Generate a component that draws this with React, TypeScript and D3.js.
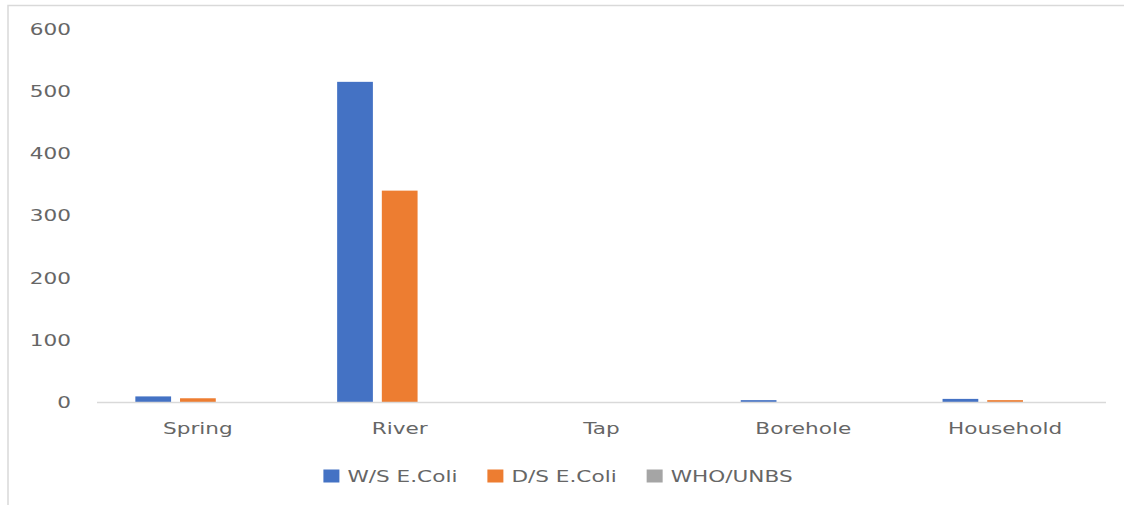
import React, { useEffect, useRef } from "react";
import * as d3 from "d3";

// Sampling sites
const categories = ["Spring", "River", "Tap", "Borehole", "Household"];

// E. coli counts per site
const wsEColi = [9, 515, 0, 3, 5];
const dsEColi = [6, 340, 0, 0, 3];
const whoUnbs = [0, 0, 0, 0, 0];

const seriesNames = ["W/S E.Coli", "D/S E.Coli", "WHO/UNBS"];
const seriesColors = ["#4472c4", "#ed7d31", "#a5a5a5"];
const yTicks = [0, 100, 200, 300, 400, 500, 600];

const W = 1124;
const H = 505;
const FONT = "DejaVu Sans, sans-serif";
const SX = 1.35; // horizontal stretch applied to the labels

export default function App() {
  const ref = useRef<SVGSVGElement | null>(null);

  useEffect(() => {
    const svg = d3.select(ref.current);
    svg.selectAll("*").remove();

    const margin = { left: 97, right: 18, top: 29, bottom: 103 };
    const plotW = W - margin.left - margin.right;
    const plotH = H - margin.top - margin.bottom;

    const series = [wsEColi, dsEColi, whoUnbs];

    const x0 = d3.scaleBand<string>().domain(categories).range([margin.left, margin.left + plotW]).padding(0);
    const outer = x0.bandwidth() * 0.19;
    const x1 = d3
      .scaleBand<number>()
      .domain([0, 1, 2])
      .range([outer, x0.bandwidth() - outer])
      .paddingInner(0.2)
      .paddingOuter(0);
    const y = d3.scaleLinear().domain([0, 600]).range([margin.top + plotH, margin.top]);

    // chart frame
    svg
      .append("path")
      .attr("d", `M8,${H} L8,5.5 L${W},5.5`)
      .attr("fill", "none")
      .attr("stroke", "#d9d9d9")
      .attr("stroke-width", 1.5);

    const stretchedText = (g: any, x: number, yy: number, txt: string, anchor: string) =>
      g
        .append("g")
        .attr("transform", `translate(${x},${yy}) scale(${SX},1)`)
        .append("text")
        .attr("text-anchor", anchor)
        .attr("dominant-baseline", "central")
        .attr("font-family", FONT)
        .attr("font-size", 16)
        .attr("fill", "#666666")
        .text(txt);

    // y tick labels
    yTicks.forEach((t) => stretchedText(svg, 71, y(t), String(t), "end"));

    // bars
    categories.forEach((c, ci) => {
      series.forEach((s, si) => {
        const v = s[ci];
        if (v <= 0) return;
        svg
          .append("rect")
          .attr("x", (x0(c) as number) + (x1(si) as number))
          .attr("y", y(v))
          .attr("width", x1.bandwidth())
          .attr("height", y(0) - y(v))
          .attr("fill", seriesColors[si]);
      });
    });

    // baseline
    svg
      .append("line")
      .attr("x1", margin.left)
      .attr("x2", margin.left + plotW)
      .attr("y1", y(0) + 0.5)
      .attr("y2", y(0) + 0.5)
      .attr("stroke", "#d9d9d9")
      .attr("stroke-width", 1.5);

    // category labels
    categories.forEach((c) =>
      stretchedText(svg, (x0(c) as number) + x0.bandwidth() / 2, 428, c, "middle")
    );

    // legend, centred under the chart area
    const legend = svg.append("g");
    const items: { g: any; w: number }[] = [];
    seriesNames.forEach((name, i) => {
      const g = legend.append("g");
      g.append("rect").attr("x", 0).attr("y", -6.5).attr("width", 16).attr("height", 13).attr("fill", seriesColors[i]);
      const t = stretchedText(g, 24, 0, name, "start");
      const tw = (t.node() as SVGTextElement).getComputedTextLength() * SX;
      items.push({ g, w: 24 + tw });
    });
    const gap = 30;
    const total = d3.sum(items, (d) => d.w) + gap * (items.length - 1);
    let lx = 558 - total / 2;
    items.forEach((it) => {
      it.g.attr("transform", `translate(${lx},476)`);
      lx += it.w + gap;
    });
  }, []);

  return (
    <svg
      ref={ref}
      width={W}
      height={H}
      style={{ position: "absolute", left: 0, top: 0, background: "#fff" }}
    />
  );
}
